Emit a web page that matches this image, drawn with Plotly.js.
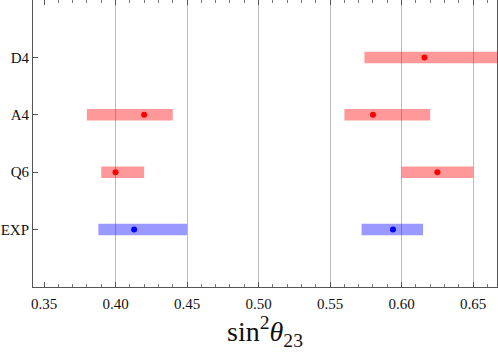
<!DOCTYPE html>
<html>
<head>
<meta charset="utf-8">
<script src="https://cdn.plot.ly/plotly-3.0.1.min.js"></script>
<style>
  html, body { margin: 0; padding: 0; background: #fff; }
  #chart { width: 498px; height: 354px; }
</style>
</head>
<body>
<div id="chart"></div>
<script>
// rows from bottom to top
const rowLabels = ["EXP", "Q6", "A4", "D4"];
const rowPos = [1, 2, 3, 4];

// model predictions (red): one entry per band
const modelRow = [2, 2, 3, 3, 4];
const modelLow = [0.39, 0.60, 0.38, 0.56, 0.574];
const modelHigh = [0.42, 0.65, 0.44, 0.62, 0.70];
const modelBest = [0.40, 0.625, 0.42, 0.58, 0.616];

// experimental ranges (blue)
const expRow = [1, 1];
const expLow = [0.388, 0.572];
const expHigh = [0.45, 0.615];
const expBest = [0.413, 0.594];

const majorTicks = [0.35, 0.40, 0.45, 0.50, 0.55, 0.60, 0.65];
const gridTicks = [0.40, 0.45, 0.50, 0.55, 0.60, 0.65];

const serif = "Liberation Serif";

const traces = [
  {
    type: "bar",
    orientation: "h",
    y: modelRow,
    base: modelLow,
    x: modelHigh.map((h, i) => h - modelLow[i]),
    width: 0.2,
    marker: { color: "rgba(255,0,0,0.4)", line: { width: 0 } },
    hoverinfo: "skip",
  },
  {
    type: "bar",
    orientation: "h",
    y: expRow,
    base: expLow,
    x: expHigh.map((h, i) => h - expLow[i]),
    width: 0.2,
    marker: { color: "rgba(0,0,255,0.4)", line: { width: 0 } },
    hoverinfo: "skip",
  },
  {
    type: "scatter",
    mode: "markers",
    x: modelBest,
    y: modelRow,
    marker: { color: "#ff0000", size: 6 },
  },
  {
    type: "scatter",
    mode: "markers",
    x: expBest,
    y: expRow,
    marker: { color: "#0000ff", size: 6 },
  },
  // empty trace so the grid-only overlay axis gets drawn
  {
    type: "scatter",
    mode: "markers",
    x: [gridTicks[0]],
    y: [null],
    xaxis: "x2",
    hoverinfo: "skip",
  },
];

const layout = {
  width: 498,
  height: 354,
  showlegend: false,
  barmode: "overlay",
  paper_bgcolor: "#fff",
  plot_bgcolor: "rgba(0,0,0,0)",
  margin: { l: 33, r: 1, t: 0, b: 67 },
  font: { family: serif, size: 15, color: "#111" },
  xaxis: {
    range: [0.3423, 0.6667],
    tickvals: majorTicks,
    ticktext: majorTicks.map((v) => v.toFixed(2)),
    ticks: "inside",
    ticklen: 5,
    tickcolor: "#555",
    ticklabelstandoff: 3,
    minor: { dtick: 0.01, tick0: 0.35, ticks: "inside", ticklen: 3, tickcolor: "#777", showgrid: false },
    showgrid: false,
    zeroline: false,
    showline: true,
    linecolor: "#555",
    linewidth: 1,
    mirror: "ticks",
    tickfont: { family: serif, size: 15, color: "#111" },
    title: {
      text: "sin<sup>2</sup><i>θ</i><sub>23</sub>",
      font: { family: serif, size: 28, color: "#111" },
      standoff: 8,
    },
  },
  xaxis2: {
    overlaying: "x",
    matches: "x",
    anchor: "y",
    tickvals: gridTicks,
    showticklabels: false,
    ticks: "",
    showgrid: true,
    gridcolor: "rgba(120,120,120,0.5)",
    gridwidth: 1,
    zeroline: false,
    showline: false,
  },
  yaxis: {
    range: [0, 5],
    tickvals: rowPos,
    ticktext: rowLabels,
    ticks: "inside",
    ticklen: 5,
    tickcolor: "#555",
    showgrid: false,
    zeroline: false,
    showline: true,
    linecolor: "#555",
    linewidth: 1,
    mirror: true,
    tickfont: { family: serif, size: 15, color: "#111" },
  },
};

Plotly.newPlot("chart", traces, layout, { displayModeBar: false, staticPlot: true });
</script>
</body>
</html>
